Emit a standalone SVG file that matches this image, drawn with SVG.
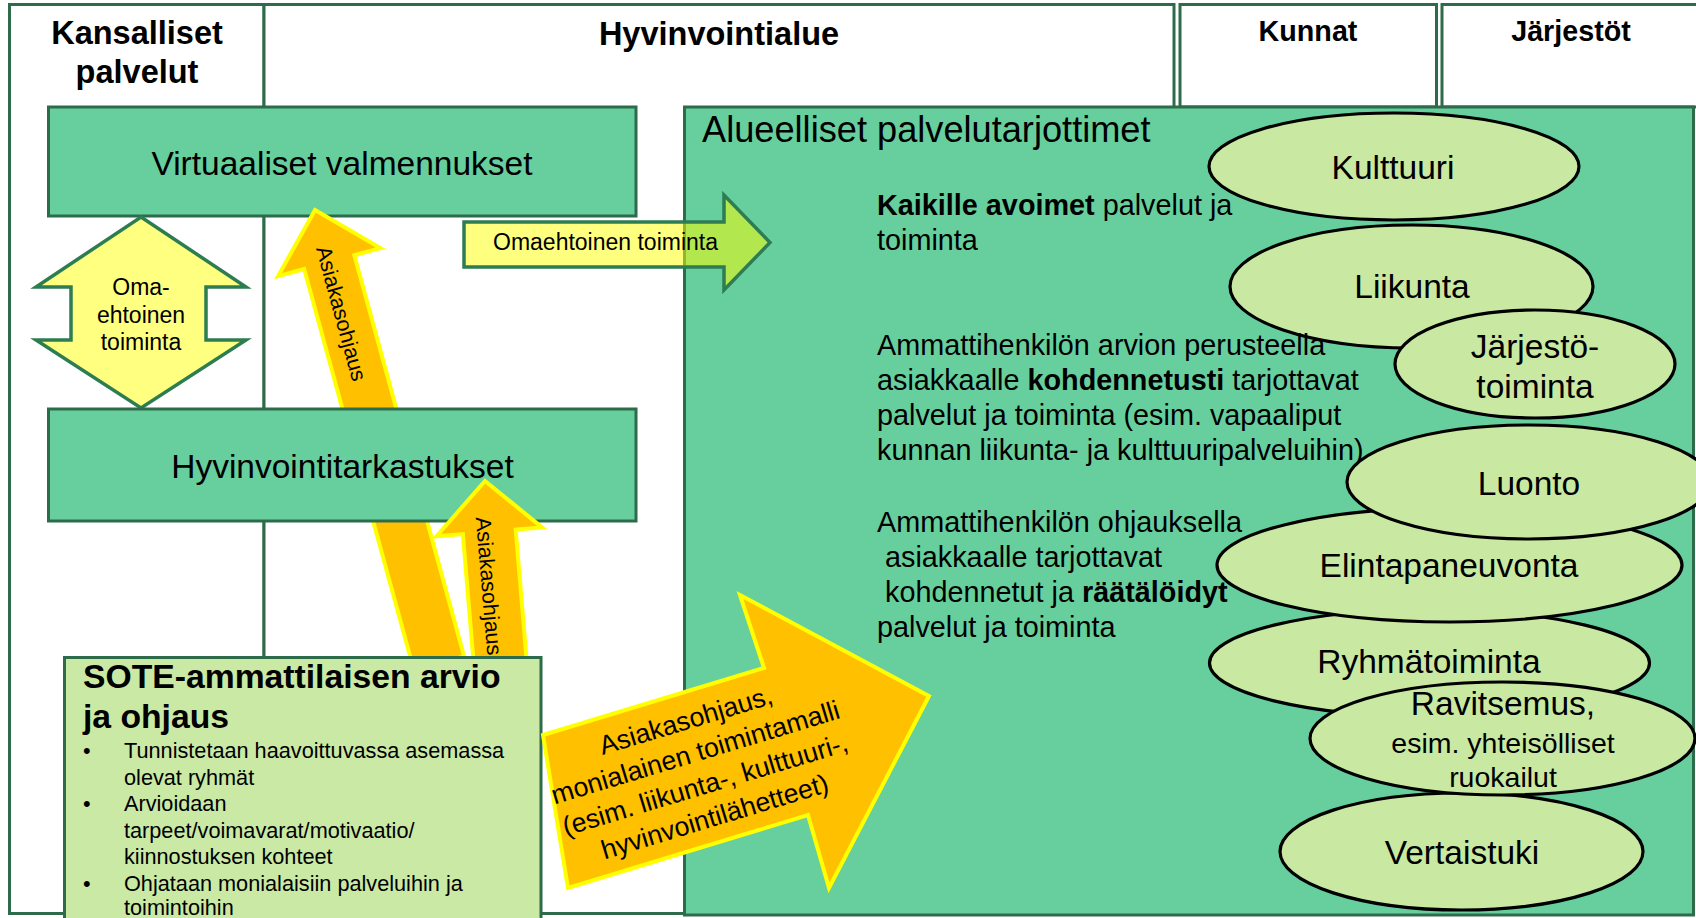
<svg xmlns="http://www.w3.org/2000/svg" width="1696" height="918" viewBox="0 0 1696 918">
<style>
  .frame{fill:#ffffff;stroke:#2E6B4B;stroke-width:3}
  .box{fill:#67CF9D;stroke:#2E6B4B;stroke-width:3}
  .sote{fill:#C9E9A5;stroke:#2E6B4B;stroke-width:3}
  .ell{fill:#C9E9A3;stroke:#000000;stroke-width:3.2}
  .orange{fill:#FFC000;stroke:#FFFF00;stroke-width:4;stroke-linejoin:miter}
  .yel2{fill:#FFFF80;stroke:#2E7D52;stroke-width:3.5;stroke-linejoin:miter}
  .yel1{fill:#FFFF00;fill-opacity:0.5;stroke:#2E7D52;stroke-width:3.5;stroke-linejoin:miter}
  text{font-family:"Liberation Sans",Arial,Helvetica,sans-serif;fill:#000000}
  .hd{font-weight:bold;font-size:32.5px;text-anchor:middle}
  .hd2{font-weight:bold;font-size:28.7px;text-anchor:middle}
  .big{font-size:33.5px;text-anchor:middle}
  .body{font-size:28.8px}
  .et{font-size:33.5px;text-anchor:middle}
  .es{font-size:28.5px;text-anchor:middle}
  .b{font-weight:bold}
</style>

<g id="frame">
  <rect class="frame" x="9.5" y="4.5" width="254.5" height="909"/>
  <rect class="frame" x="264" y="4.5" width="910" height="909"/>
  <rect class="frame" x="1180" y="4.5" width="256.5" height="102.5"/>
  <rect class="frame" x="1442" y="4.5" width="270" height="102.5"/>
  <text class="hd" x="137" y="44">Kansalliset</text>
  <text class="hd" x="137" y="83">palvelut</text>
  <text class="hd" x="719" y="45">Hyvinvointialue</text>
  <text class="hd2" x="1308" y="41">Kunnat</text>
  <text class="hd2" x="1571" y="41">Järjestöt</text>
</g>

<g id="virtuaaliset">
  <rect class="box" x="48.5" y="107" width="587.5" height="109"/>
  <text class="big" x="342" y="175">Virtuaaliset valmennukset</text>
</g>

<g id="omaehtoinen-double">
  <polygon class="yel2" points="141,217 246,287 206,287 206,340 246,340 141,408 36,340 71,340 71,287 36,287"/>
  <text font-size="23" text-anchor="middle" x="141" y="295">Oma-</text>
  <text font-size="23" text-anchor="middle" x="141" y="323">ehtoinen</text>
  <text font-size="23" text-anchor="middle" x="141" y="350">toiminta</text>
</g>

<g id="alueelliset">
  <rect class="box" x="684.5" y="107" width="1009" height="808"/>
  <text x="702" y="142" font-size="36.2">Alueelliset palvelutarjottimet</text>
</g>

<g id="connectors">
  <g id="asiakasohjaus-1">
    <polygon class="orange" transform="translate(315,210) rotate(-15.3)" points="0,0 53,54 26,54 26,470 -26,470 -26,54 -53,54"/>
    <text font-size="21.5" text-anchor="middle" transform="translate(341.5,313.5) rotate(74.7)" y="7.5">Asiakasohjaus</text>
  </g>
</g>

<g id="hyvinvointitarkastukset">
  <rect class="box" x="48.5" y="409" width="587.5" height="112"/>
  <text class="big" x="342.5" y="478">Hyvinvointitarkastukset</text>
</g>

<g id="connectors-2">
  <g id="asiakasohjaus-2">
    <polygon class="orange" transform="translate(485,481) rotate(-4.8)" points="0,0 53,51 26.5,51 26.5,195 -26.5,195 -26.5,51 -53,51"/>
    <text font-size="21.5" text-anchor="middle" transform="translate(489,586) rotate(85.2)" y="7.5">Asiakasohjaus</text>
  </g>
</g>

<g id="sote">
  <rect class="sote" x="64.5" y="657.5" width="476.5" height="262"/>
  <text x="83" y="688" font-size="33.7" font-weight="bold">SOTE-ammattilaisen arvio</text>
  <text x="83" y="728" font-size="33.7" font-weight="bold">ja ohjaus</text>
  <g font-size="21.7">
    <text x="83" y="758">•</text>
    <text x="124" y="758">Tunnistetaan haavoittuvassa asemassa</text>
    <text x="124" y="784.5">olevat ryhmät</text>
    <text x="83" y="811">•</text>
    <text x="124" y="811">Arvioidaan</text>
    <text x="124" y="837.5">tarpeet/voimavarat/motivaatio/</text>
    <text x="124" y="864">kiinnostuksen kohteet</text>
    <text x="83" y="890.5">•</text>
    <text x="124" y="890.5">Ohjataan monialaisiin palveluihin ja</text>
    <text x="124" y="915">toimintoihin</text>
  </g>
</g>

<g id="ellipses">
  <g id="kulttuuri">
    <ellipse class="ell" cx="1394" cy="166.5" rx="185" ry="53.5"/>
    <text class="et" x="1393" y="179">Kulttuuri</text>
  </g>
  <g id="liikunta">
    <ellipse class="ell" cx="1411.5" cy="286.5" rx="181.5" ry="61.5"/>
    <text class="et" x="1412" y="298">Liikunta</text>
  </g>
  <g id="jarjestotoiminta">
    <ellipse class="ell" cx="1535" cy="364" rx="140" ry="54"/>
    <text class="et" x="1535" y="358">Järjestö-</text>
    <text class="et" x="1535" y="398">toiminta</text>
  </g>
  <g id="vertaistuki">
    <ellipse class="ell" cx="1461.5" cy="851.5" rx="181.5" ry="58.5"/>
    <text class="et" x="1462" y="864">Vertaistuki</text>
  </g>
  <g id="ryhmatoiminta">
    <ellipse class="ell" cx="1429.5" cy="663" rx="220" ry="53.5"/>
    <text class="et" x="1429" y="673">Ryhmätoiminta</text>
  </g>
  <g id="ravitsemus">
    <ellipse class="ell" cx="1502.5" cy="738.5" rx="192.5" ry="56.5"/>
    <text class="et" x="1503" y="715">Ravitsemus,</text>
    <text class="es" x="1503" y="753">esim. yhteisölliset</text>
    <text class="es" x="1503" y="787">ruokailut</text>
  </g>
  <g id="elintapaneuvonta">
    <ellipse class="ell" cx="1449.5" cy="565" rx="232.5" ry="57"/>
    <text class="et" x="1449" y="577">Elintapaneuvonta</text>
  </g>
  <g id="luonto">
    <ellipse class="ell" cx="1529" cy="482" rx="182" ry="57"/>
    <text class="et" x="1529" y="495">Luonto</text>
  </g>
</g>

<g id="palvelut-text" class="body">
  <text class="body" x="877" y="215"><tspan class="b">Kaikille avoimet</tspan> palvelut ja</text>
  <text class="body" x="877" y="250">toiminta</text>
  <text class="body" x="877" y="355">Ammattihenkilön arvion perusteella</text>
  <text class="body" x="877" y="390">asiakkaalle <tspan class="b">kohdennetusti</tspan> tarjottavat</text>
  <text class="body" x="877" y="425">palvelut ja toiminta (esim. vapaaliput</text>
  <text class="body" x="877" y="460">kunnan liikunta- ja kulttuuripalveluihin)</text>
  <text class="body" x="877" y="532">Ammattihenkilön ohjauksella</text>
  <text class="body" x="885" y="567">asiakkaalle tarjottavat</text>
  <text class="body" x="885" y="602">kohdennetut ja <tspan class="b">räätälöidyt</tspan></text>
  <text class="body" x="877" y="637">palvelut ja toiminta</text>
</g>

<g id="connectors-3">
  <g id="omaehtoinen-arrow">
    <polygon class="yel1" points="464,222 724,222 724,195 770,242.5 724,290 724,267 464,267"/>
    <text x="493" y="250" font-size="23">Omaehtoinen toiminta</text>
  </g>
  <g id="asiakasohjaus-big">
    <polygon class="orange" points="543,735 764,668 740,595 929,696 829,888 808,815 568,888"/>
    <g transform="translate(704,774) rotate(-16.8)" font-size="26.7" text-anchor="middle">
      <text x="-2" y="-47.5">Asiakasohjaus,</text>
      <text x="-2" y="-14">monialainen toimintamalli</text>
      <text x="-2" y="19.5">(esim. liikunta-, kulttuuri-,</text>
      <text x="-2" y="53">hyvinvointilähetteet)</text>
    </g>
  </g>
</g>
</svg>
